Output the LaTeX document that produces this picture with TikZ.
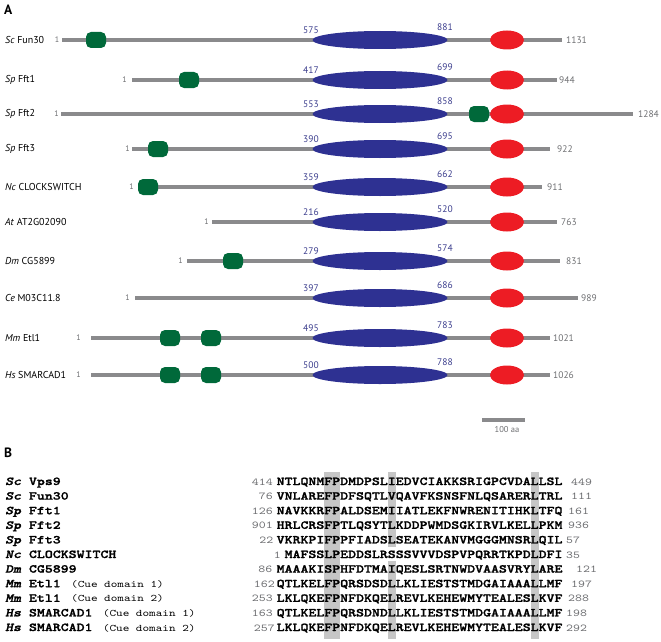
\documentclass[tikz,border=0pt]{standalone}
\usepackage{fontspec}
\setmainfont{PT Sans}
\newfontfamily\seqrm[FakeStretch=1.26]{lmmono10-regular.otf}
\newfontfamily\seqbf[FakeStretch=1.26,FakeBold=1.6]{lmmonolt10-bold.otf}
\newfontfamily\seqbi[FakeStretch=1.26,FakeBold=1.6]{lmmonolt10-boldoblique.otf}
\usetikzlibrary{positioning,shapes.geometric}

\definecolor{barcol}{RGB}{138,138,140}
\definecolor{atpblue}{RGB}{46,49,146}
\definecolor{numblue}{RGB}{58,60,140}
\definecolor{helred}{RGB}{237,28,36}
\definecolor{cuegreen}{RGB}{0,105,58}
\definecolor{numgray}{RGB}{109,110,113}
\definecolor{colgray}{RGB}{198,198,198}

\def\sx{276.5}
\def\cw{7.94}

\begin{document}
\begin{tikzpicture}[
  x=1pt, y=-1pt,
  bar/.style={line width=3.6pt, draw=barcol},
  atpase/.style={ellipse, fill=atpblue, minimum width=135pt, minimum height=18pt, inner sep=0},
  helic/.style={ellipse, fill=helred, minimum width=34pt, minimum height=19pt, inner sep=0},
  cue/.style={rectangle, rounded corners=5pt, fill=cuegreen, minimum width=20pt, minimum height=16pt, inner sep=0},
  protlab/.style={anchor=west, inner sep=0, font=\fontsize{10}{12}\selectfont},
  bound/.style={inner sep=0, text=numblue, font=\fontsize{9.5}{11}\selectfont},
  lenlab/.style={anchor=west, inner sep=0, text=numgray, font=\fontsize{9.5}{11}\selectfont},
  first/.style={anchor=east, inner sep=0, text=numgray, font=\fontsize{8}{9}\selectfont},
  panel/.style={anchor=west, inner sep=0, font=\bfseries\fontsize{13.5}{15}\selectfont},
  hilite/.style={fill=colgray},
  seqlab/.style={anchor=base west, inner sep=0, font=\seqbf\fontsize{12}{14}\selectfont},
  seqtext/.style={anchor=base west, inner sep=0, font=\seqbf\fontsize{12}{14}\selectfont},
  seqnum/.style={inner sep=0, text=numgray, font=\seqrm\fontsize{10.5}{12}\selectfont},
  cuenote/.style={inner sep=0, font=\seqrm\fontsize{10}{12}\selectfont}
]
\useasboundingbox (0,0) rectangle (661,642);

% A: domain architecture
\node[panel] (pA) at (4,9.5) {A};
\foreach \i/\sp/\nm/\y/\st/\g/\en/\h/\lo/\hi/\len in {
  1/Sc/Fun30/40/62/2.5/562/4/575/881/1131,
  2/Sp/Fft1/80/132/5/557/2/417/699/944,
  3/Sp/Fft2/114/61/2/633/5/553/858/1284,
  4/Sp/Fft3/149/132/2/550/7/390/695/922,
  5/Nc/CLOCKSWITCH/187/140/6/542/5/359/662/911,
  6/At/AT2G02090/222/212/3/557/4/216/520/763,
  7/Dm/CG5899/261/187/4/560/6/279/574/831,
  8/Ce/M03C11.8/298/135/5/578/3/397/686/989,
  9/Mm/Etl1/338/91/10/550/3/495/783/1021,
  10/Hs/SMARCAD1/375/91/10/550/3/500/788/1026}{
  \node[protlab] (lab\i) at (5,\y) {\textit{\sp} \nm};
  \coordinate (s\i) at (\st,\y);
  \coordinate (e\i) at (\en,\y);
  \draw[bar] (s\i) -- (e\i);
  \node[first, left=\g pt of s\i] (one\i) {1};
  \node[lenlab, right=\h pt of e\i] (len\i) {\len};
  \node[atpase] (atp\i) at (380,\y) {};
  \node[bound] (lo\i) at (311,\y-10) {\lo};
  \node[bound] (hi\i) at (445,\y-12.5) {\hi};
  \node[helic] (hel\i) at (507,\y) {};
}
\foreach \i/\x/\y in {1/96/40, 2/189/80, 3/479/114, 4/158/149, 5/148/187,
  7/233/261, 9/170/338, 9/211/338, 10/170/375, 10/211/375}
  \node[cue] (cue\i-\x) at (\x,\y) {};

% scale bar
\coordinate (sb0) at (482,420);
\coordinate (sb1) at (525,420);
\draw[bar] (sb0) -- (sb1);
\node[inner sep=0, text=numgray, font=\fontsize{8.5}{10}\selectfont] (sblab) at (507,430) {100 aa};

% B: alignment, conserved columns first
\node[panel] (pB) at (4,453) {B};
\foreach \c/\w in {7/2, 33/1}
  \fill[hilite] (\sx+\c*\cw-\cw,472) rectangle +(\w*\cw,167);
\fill[hilite] (\sx+14*\cw,472) rectangle +(\cw,74.5);
\fill[hilite] (\sx+14*\cw,561) rectangle +(\cw,78);

\foreach \i/\sp/\nm/\fr/\frx/\c/\seq/\to/\tox in {
  1/Sc/Vps9/414/273/0/NTLQNMFPDMDPSLIEDVCIAKKSRIGPCVDALLSL/449/571,
  2/Sc/Fun30/76/273/0/VNLAREFPDFSQTLVQAVFKSNSFNLQSARERLTRL/111/571,
  3/Sp/Fft1/126/273/0/NAVKKRFPALDSEMIIATLEKFNWRENITIHKLTFQ/161/568,
  4/Sp/Fft2/901/273/0/HRLCRSFPTLQSYTLKDDPWMDSGKIRVLKELLPKM/936/568,
  5/Sp/Fft3/22/273.5/0/VKRKPIFPPFIADSLSEATEKANVMGGGMNSRLQIL/57/566,
  6/Nc/CLOCKSWITCH/1/281/1/MAFSSLPEDDSLRSSSVVVDSPVPQRRTKPDLDFI/35/566,
  7/Dm/CG5899/86/272.5/0/MAAAKISPHFDTMAIQESLSRTNWDVAASVRYLARE/121/576,
  8/Mm/Etl1/162/275/0/QTLKELFPQRSDSDLLKLIESTSTMDGAIAAALLMF/197/571,
  9/Mm/Etl1/253/273/0/LKLQKEFPNFDKQELREVLKEHEWMYTEALESLKVF/288/568,
  10/Hs/SMARCAD1/163/273/0/QTLKELFPQRSDNDLLKLIESTSTMDGAIAAALLMF/198/566,
  11/Hs/SMARCAD1/257/275/0/LKLQKEFPNFDKQELREVLKEHEWMYTEALESLKVF/292/566}{
  \pgfmathsetmacro\yy{481+14.6*(\i-1)+4}
  \node[seqlab] (blab\i) at (5,\yy) {{\seqbi\sp} \nm};
  \node[seqnum, anchor=base east] (fr\i) at (\frx,\yy) {\fr};
  \node[seqtext] (seq\i) at (\sx+\c*\cw,\yy) {\seq};
  \node[seqnum, anchor=base west] (to\i) at (\tox,\yy) {\to};
}
\foreach \i/\d in {8/1, 9/2, 10/1, 11/2}
  \node[cuenote, base right=10pt of blab\i] (note\i) {(Cue domain \d)};
\end{tikzpicture}
\end{document}
